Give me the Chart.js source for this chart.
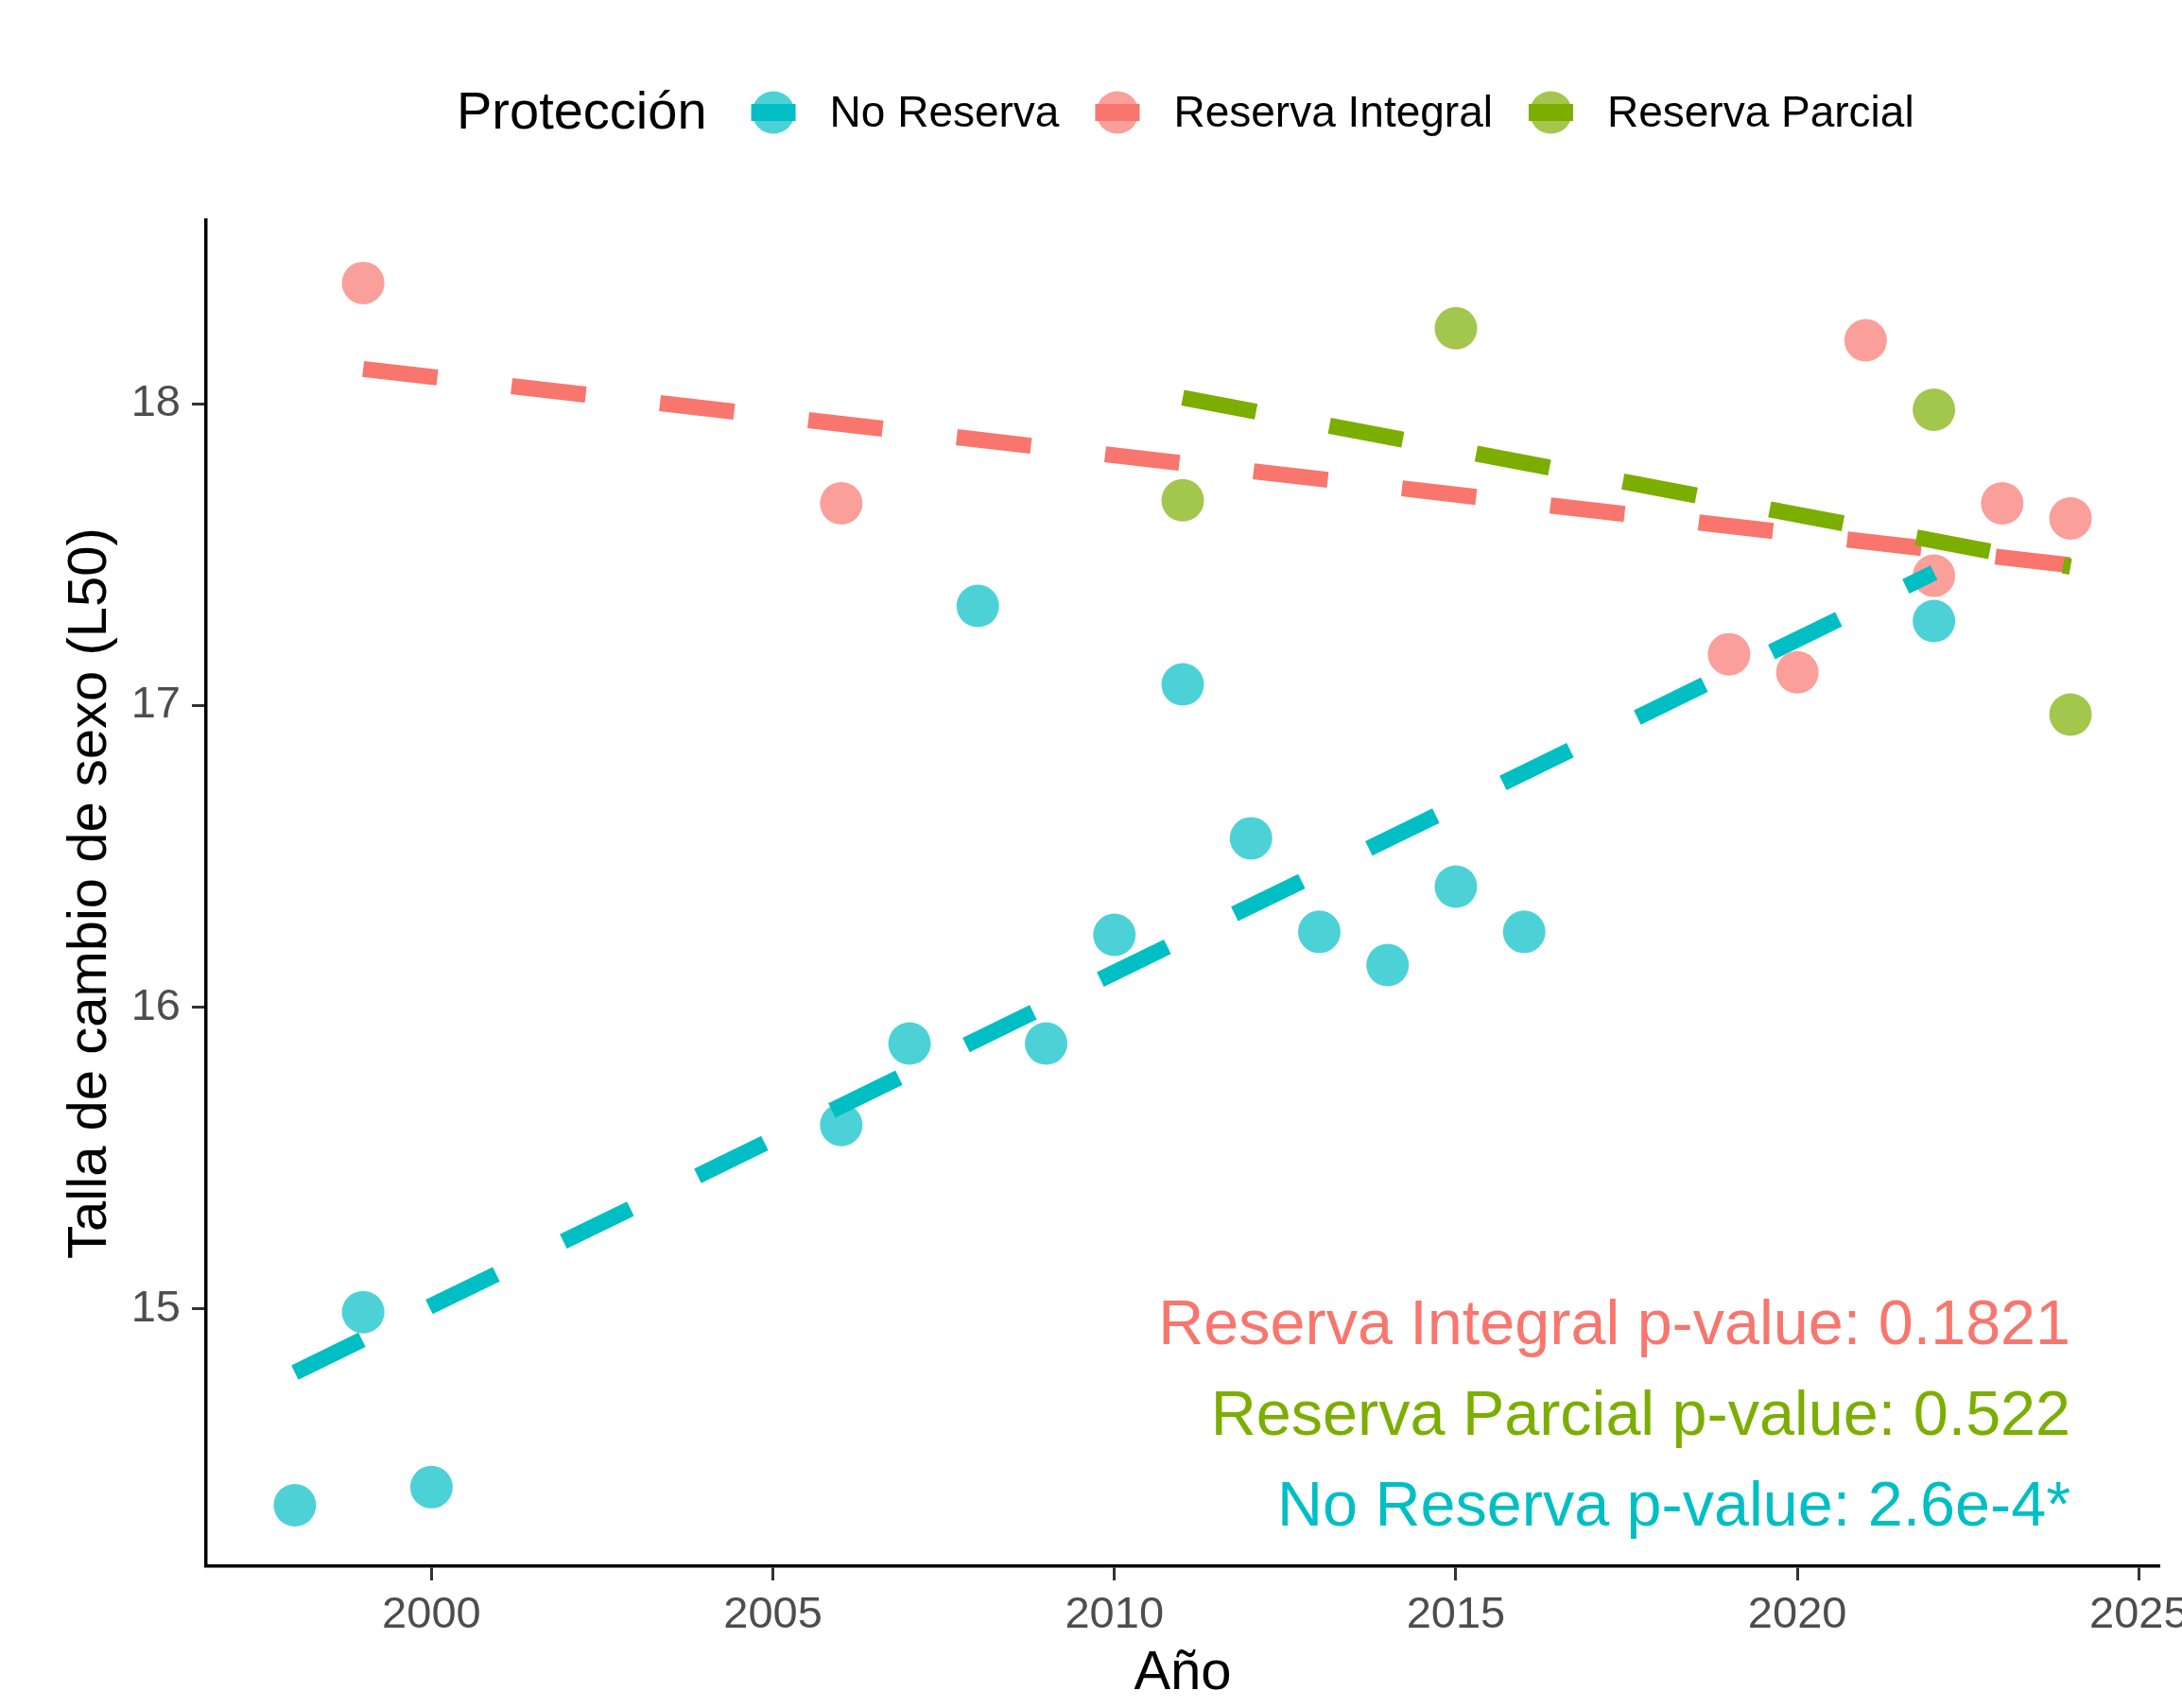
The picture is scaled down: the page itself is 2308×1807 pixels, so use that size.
<!DOCTYPE html>
<html>
<head>
<meta charset="utf-8">
<script src="https://cdn.jsdelivr.net/npm/chart.js@4.4.1/dist/chart.umd.min.js"></script>
<style>
html, body { margin: 0; padding: 0; background: #fff; }
#wrap { width: 2308px; height: 1807px; }
</style>
</head>
<body>
<div id="wrap"><canvas id="myChart"></canvas></div>
<script>
const groups = ["No Reserva", "Reserva Integral", "Reserva Parcial"];
const lineColors = ["#00BFC4", "#F8766D", "#7CAE00"];
const pointColors = ["rgba(0,191,196,0.7)", "rgba(248,118,109,0.7)", "rgba(124,174,0,0.7)"];

/* points */
const noReservaYears = [1998, 1999, 2000, 2006, 2007, 2008, 2009, 2010, 2011, 2012, 2013, 2014, 2015, 2016, 2022];
const noReservaL50 = [14.35, 14.99, 14.41, 15.61, 15.88, 17.33, 15.88, 16.24, 17.07, 16.56, 16.25, 16.14, 16.40, 16.25, 17.28];
const integralYears = [1999, 2006, 2019, 2020, 2021, 2022, 2023, 2024];
const integralL50 = [18.40, 17.67, 17.17, 17.11, 18.21, 17.43, 17.67, 17.62];
const parcialYears = [2011, 2015, 2022, 2024];
const parcialL50 = [17.68, 18.25, 17.98, 16.97];

/* fitted lines, ends */
const noReservaFitYears = [1998, 2022];
const noReservaFit = [14.79, 17.44];
const integralFitYears = [1999, 2024];
const integralFit = [18.115, 17.465];
const parcialFitYears = [2011, 2024];
const parcialFit = [18.02, 17.46];

/* p-value labels */
const pLabels = ["Reserva Integral p-value: 0.1821", "Reserva Parcial p-value: 0.522", "No Reserva p-value: 2.6e-4*"];
const pColors = ["#F8766D", "#7CAE00", "#00BFC4"];
const pLabelY = [14.94, 14.64, 14.34];
const pLabelX = 2024;

const xTicks = [2000, 2005, 2010, 2015, 2020, 2025];
const yTicks = [15, 16, 17, 18];

const FONT = '"Liberation Sans", Arial, sans-serif';
Chart.defaults.font.family = FONT;

function toXY(xs, ys) {
    return xs.map((x, i) => ({ x: x, y: ys[i] }));
}

function pointSet(i, xs, ys) {
    return {
        type: "scatter",
        label: groups[i],
        data: toXY(xs, ys),
        backgroundColor: pointColors[i],
        borderWidth: 0,
        pointRadius: 22.5,
        pointHoverRadius: 22.5,
        order: 10
    };
}

function fitSet(i, xs, ys, ord) {
    return {
        type: "line",
        label: groups[i] + " fit",
        data: toXY(xs, ys),
        borderColor: lineColors[i],
        borderWidth: 17,
        borderDash: [79, 79],
        borderCapStyle: "butt",
        pointRadius: 0,
        fill: false,
        order: ord
    };
}

const extras = {
    id: "extras",
    afterDatasetsDraw(chart) {
        const ctx = chart.ctx;
        const x = chart.scales.x, y = chart.scales.y;
        ctx.save();
        ctx.font = "66.5px " + FONT;
        ctx.textAlign = "right";
        ctx.textBaseline = "middle";
        for (let i = 0; i < pLabels.length; i++) {
            ctx.fillStyle = pColors[i];
            ctx.fillText(pLabels[i], x.getPixelForValue(pLabelX), y.getPixelForValue(pLabelY[i]));
        }
        ctx.restore();
    },
    afterDraw(chart) {
        /* legend row: title + keys */
        const ctx = chart.ctx;
        const cy = 119;
        ctx.save();
        ctx.textBaseline = "middle";
        ctx.textAlign = "left";
        ctx.fillStyle = "#000";
        ctx.font = "56px " + FONT;
        let lx = 483;
        ctx.fillText("Protección", lx, cy + 2);
        lx += ctx.measureText("Protección").width + 47;
        ctx.font = "46px " + FONT;
        for (let i = 0; i < groups.length; i++) {
            const kx = lx + 23.5;
            ctx.fillStyle = pointColors[i];
            ctx.beginPath();
            ctx.arc(kx, cy, 22.5, 0, Math.PI * 2);
            ctx.fill();
            ctx.fillStyle = lineColors[i];
            ctx.fillRect(kx - 23.5, cy - 9, 47, 18);
            ctx.fillStyle = "#000";
            const tx = lx + 47 + 36;
            ctx.fillText(groups[i], tx, cy + 2);
            lx = tx + ctx.measureText(groups[i]).width + 38;
        }
        ctx.restore();
    }
};

const ctx = document.getElementById("myChart").getContext("2d");
const myChart = new Chart(ctx, {
    data: {
        datasets: [
            pointSet(0, noReservaYears, noReservaL50),
            pointSet(1, integralYears, integralL50),
            pointSet(2, parcialYears, parcialL50),
            fitSet(0, noReservaFitYears, noReservaFit, 3),
            fitSet(1, integralFitYears, integralFit, 2),
            fitSet(2, parcialFitYears, parcialFit, 1)
        ]
    },
    options: {
        responsive: true,
        maintainAspectRatio: false,
        devicePixelRatio: 1,
        animation: false,
        layout: { padding: { left: 0, top: 233, right: 24, bottom: 0 } },
        plugins: {
            legend: { display: false },
            tooltip: { enabled: false }
        },
        scales: {
            x: {
                type: "linear",
                min: 1996.7,
                max: 2025.3,
                afterBuildTicks: s => { s.ticks = xTicks.map(v => ({ value: v })); },
                afterFit: s => { s.height = 150; s.paddingLeft = 0; s.paddingRight = 0; },
                grid: { display: true, drawOnChartArea: false, drawTicks: true, tickLength: 15, tickColor: "#333", tickWidth: 3 },
                border: { display: true, color: "#000", width: 3.5 },
                ticks: { color: "#4D4D4D", font: { size: 47 }, padding: 9, maxRotation: 0, autoSkip: false, callback: v => String(v) },
                title: { display: true, text: "Año", color: "#000", font: { size: 58 }, padding: { top: 0, bottom: 1 } }
            },
            y: {
                type: "linear",
                min: 14.148,
                max: 18.608,
                afterBuildTicks: s => { s.ticks = yTicks.map(v => ({ value: v })); },
                afterFit: s => { s.width = 218; s.paddingTop = 0; s.paddingBottom = 0; },
                grid: { display: true, drawOnChartArea: false, drawTicks: true, tickLength: 15, tickColor: "#333", tickWidth: 3 },
                border: { display: true, color: "#000", width: 3.5 },
                ticks: { color: "#4D4D4D", font: { size: 47 }, padding: 12, callback: v => String(v) },
                title: { display: true, text: "Talla de cambio de sexo (L50)", color: "#000", font: { size: 58 }, padding: { top: 61, bottom: 0 } }
            }
        }
    },
    plugins: [extras]
});
</script>
</body>
</html>
